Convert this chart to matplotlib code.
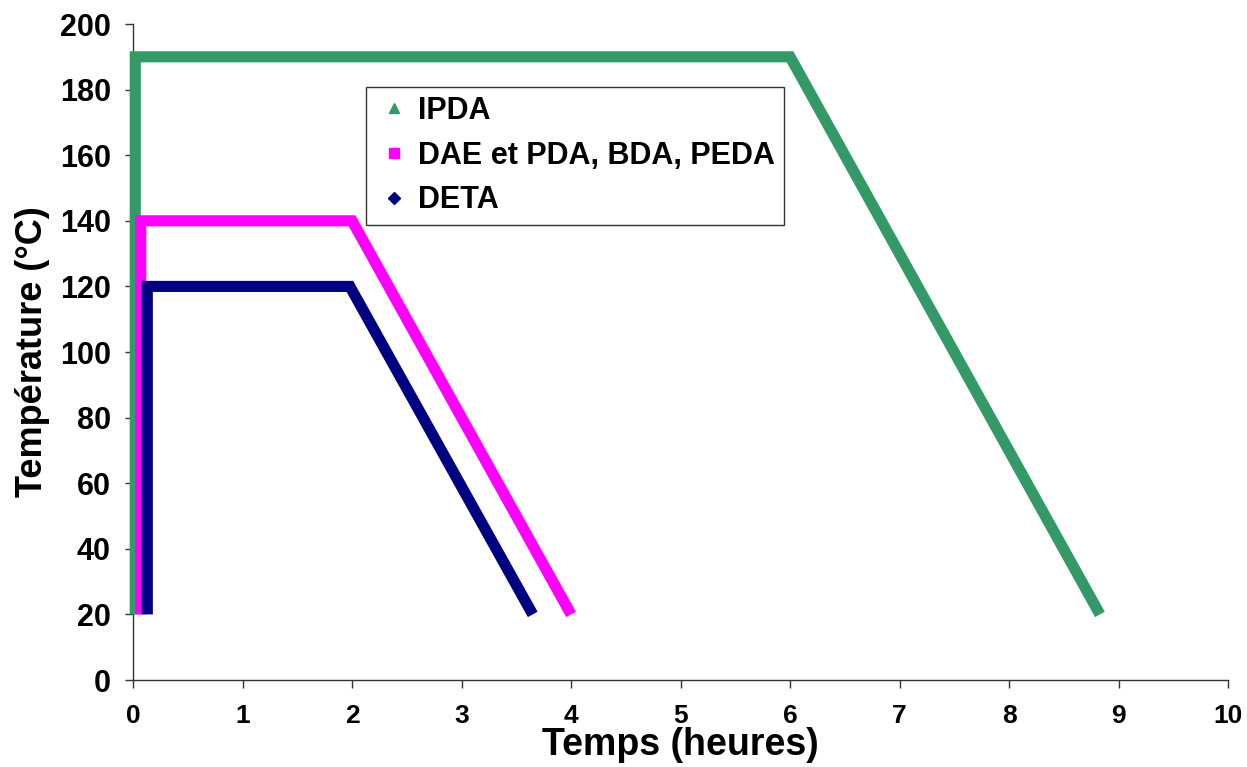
import matplotlib
matplotlib.use("Agg")
import matplotlib.pyplot as plt

# Temperature programmes (time in hours, temperature in deg C)
ipda_t = [0.02, 0.02, 6.0, 8.83]
ipda_T = [20, 190, 190, 20]
dae_t = [0.07, 0.07, 2.0, 4.0]
dae_T = [20, 140, 140, 20]
deta_t = [0.13, 0.13, 1.98, 3.65]
deta_T = [20, 120, 120, 20]

labels = ["IPDA", "DAE et PDA, BDA, PEDA", "DETA"]
colors = ["#339966", "#FF00FF", "#000080"]
markers = ["^", "s", "D"]

font = ["Liberation Sans", "Arial", "DejaVu Sans"]

fig = plt.figure(figsize=(12.47, 7.67), dpi=100)
ax = fig.add_axes([0.1067, 0.1134, 0.8781, 0.8553])

series = [(ipda_t, ipda_T), (dae_t, dae_T), (deta_t, deta_T)]
for (t, T), c in zip(series, colors):
    ax.plot(t, T, color=c, lw=8, solid_capstyle="butt",
            solid_joinstyle="miter", clip_on=False, zorder=3)

# legend handles: markers only, like the Excel original
handles = []
for c, m, lab in zip(colors, markers, labels):
    h, = ax.plot([], [], ls="none", marker=m, color=c,
                 markersize=7 if m != "D" else 6.5, label=lab)
    handles.append(h)

leg = ax.legend(handles=handles, loc="upper left",
                bbox_to_anchor=(0.2128, 0.904), borderaxespad=0,
                prop={"family": font, "weight": "bold", "size": 22},
                frameon=True, fancybox=False, shadow=False,
                borderpad=0.3, handlelength=1.2, handletextpad=0.2,
                labelspacing=0.48)
leg.get_frame().set_edgecolor("black")
leg.get_frame().set_linewidth(1.0)

ax.set_xlim(0, 10)
ax.set_ylim(0, 200)
ax.set_xticks(range(0, 11))
ax.set_yticks(range(0, 201, 20))

for s in ["top", "right"]:
    ax.spines[s].set_visible(False)
for s in ["left", "bottom"]:
    ax.spines[s].set_color("#333333")
    ax.spines[s].set_linewidth(1.0)

ax.tick_params(axis="both", direction="out", length=6, width=1, color="#333333")
ax.tick_params(axis="y", pad=10)
ax.tick_params(axis="x", pad=11)
for lab in ax.get_yticklabels():
    lab.set_fontfamily(font)
    lab.set_fontweight("bold")
    lab.set_fontsize(22)
for lab in ax.get_xticklabels():
    lab.set_fontfamily(font)
    lab.set_fontweight("bold")
    lab.set_fontsize(19)

ax.set_xlabel("Temps (heures)", fontfamily=font, fontweight="bold", fontsize=27)
ax.xaxis.set_label_coords(0.5, -0.0716)
ax.set_ylabel("Température (°C)", fontfamily=font, fontweight="bold", fontsize=26)
ax.yaxis.set_label_coords(-0.076, 0.5)

plt.savefig("out.png", dpi=100)
